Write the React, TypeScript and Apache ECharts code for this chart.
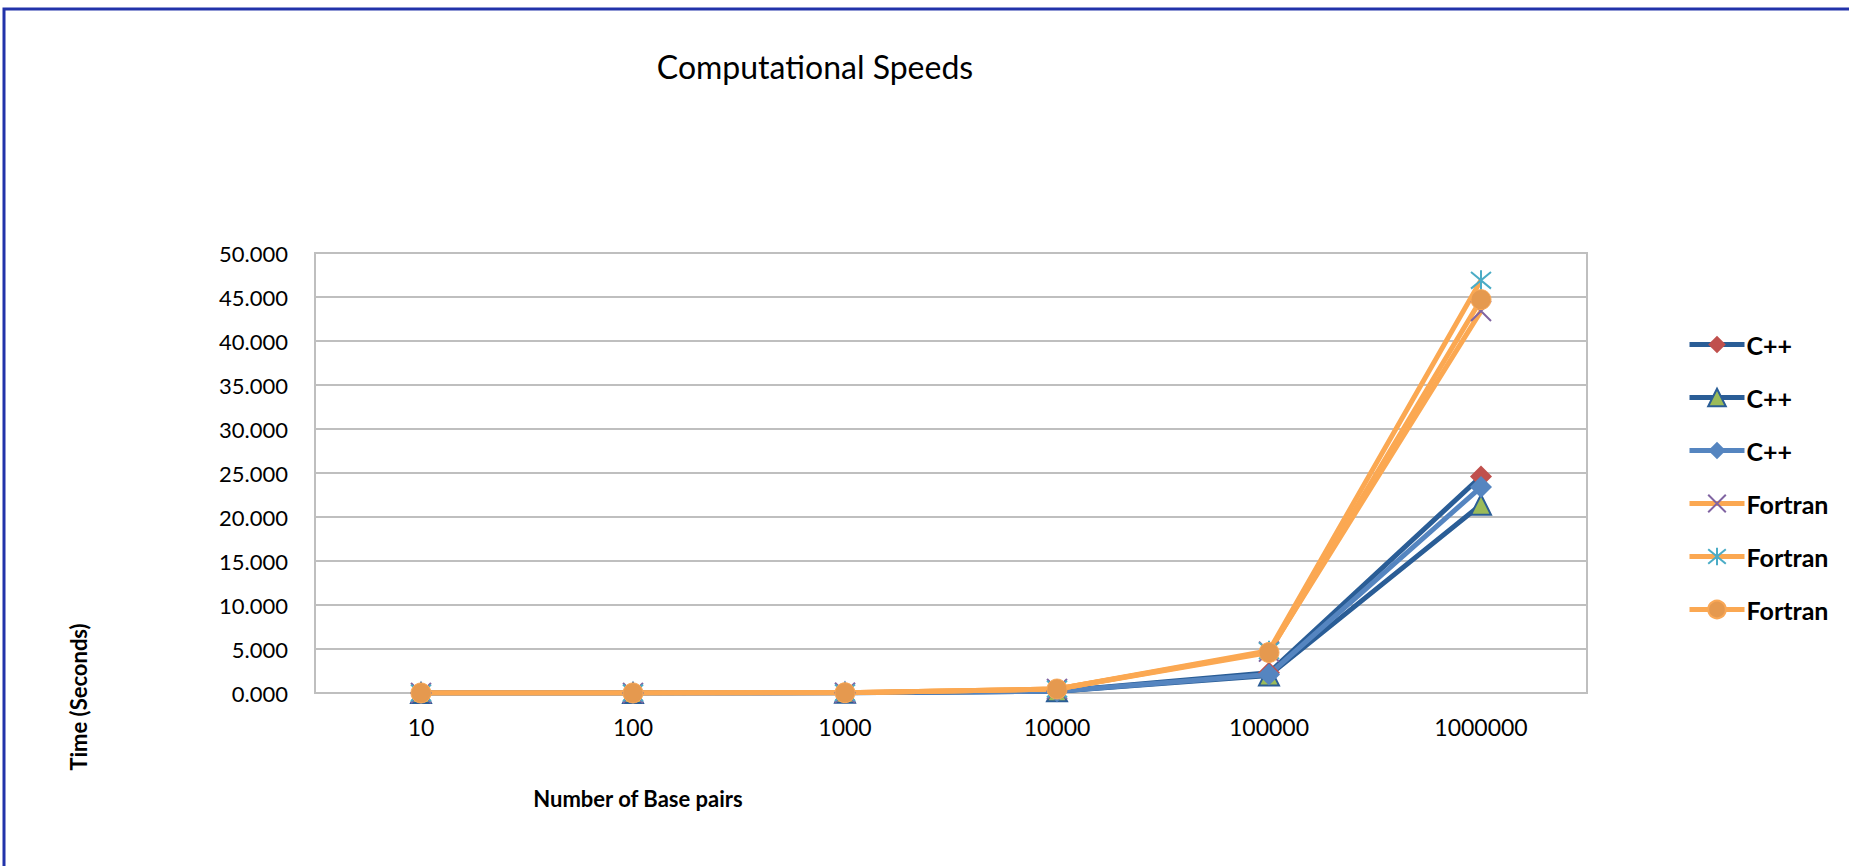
import React, { useEffect, useRef } from "react";
import * as echarts from "echarts";

const categories = ["10", "100", "1000", "10000", "100000", "1000000"];
const seriesNames = ["C++", "C++", "C++", "Fortran", "Fortran", "Fortran"];
const cpp1 = [0.001, 0.002, 0.02, 0.2, 2.3, 24.6];
const cpp2 = [0.001, 0.002, 0.02, 0.2, 2.0, 21.4];
const cpp3 = [0.001, 0.002, 0.02, 0.2, 2.1, 23.4];
const fortran1 = [0.001, 0.003, 0.03, 0.45, 4.7, 43.4];
const fortran2 = [0.001, 0.003, 0.03, 0.45, 4.8, 46.9];
const fortran3 = [0.001, 0.003, 0.03, 0.45, 4.6, 44.7];

const FONT = "Lato, 'Open Sans', sans-serif";
const X_PATH = "path://M0 0 L10 10 M10 0 L0 10";
const STAR_PATH = "path://M0 0 L10 10 M10 0 L0 10 M5 -1 L5 11";

export default function App() {
  const ref = useRef<HTMLDivElement>(null);
  useEffect(() => {
    document.body.style.margin = "0";
    const chart = echarts.init(ref.current!, null, { renderer: "svg" });
    const lineW = 5;
    const mk = (
      name: string,
      data: number[],
      lineColor: string,
      symbol: string,
      symbolSize: number,
      itemStyle: any
    ) => ({
      name,
      type: "line",
      data,
      symbol,
      symbolSize,
      showAllSymbol: true,
      lineStyle: { color: lineColor, width: lineW },
      itemStyle,
      emphasis: { disabled: true },
    });
    chart.setOption({
      animation: false,
      backgroundColor: "#ffffff",
      title: {
        text: "Computational Speeds",
        left: 810,
        top: 45,
        textAlign: "center",
        textStyle: { fontFamily: FONT, fontSize: 32, fontWeight: "normal", color: "#000" },
      },
      grid: {
        left: 315,
        top: 253,
        width: 1272,
        height: 440,
        show: true,
        borderColor: "#bfbfbf",
        borderWidth: 2,
        containLabel: false,
      },
      legend: {
        orient: "vertical",
        left: 1682,
        top: 327,
        itemWidth: 55,
        itemHeight: 22,
        itemGap: 28,
        selectedMode: false,
        lineStyle: { width: 5 },
        textStyle: {
          fontFamily: FONT,
          fontSize: 25,
          lineHeight: 25,
          fontWeight: "bold",
          color: "#000",
          padding: [0, 0, 0, -3],
        },
        data: [0, 1, 2, 3, 4, 5].map((i) => ({ name: seriesNames[i] + "\u200b".repeat(i) })),
      },
      xAxis: {
        type: "category",
        data: categories,
        boundaryGap: true,
        axisLine: { show: true, lineStyle: { color: "#bfbfbf", width: 2 } },
        axisTick: { show: false },
        axisLabel: { fontFamily: FONT, fontSize: 23, color: "#000", margin: 22 },
        splitLine: { show: false },
      },
      yAxis: {
        type: "value",
        min: 0,
        max: 50,
        interval: 5,
        axisLine: { show: true, lineStyle: { color: "#bfbfbf", width: 2 } },
        axisTick: { show: false },
        axisLabel: {
          fontFamily: FONT,
          fontSize: 22,
          color: "#000",
          margin: 27,
          formatter: (v: number) => v.toFixed(3),
        },
        splitLine: { show: true, lineStyle: { color: "#bfbfbf", width: 2 } },
      },
      series: [
        mk(seriesNames[0], cpp1, "#2a5d96", "diamond", 22, { color: "#c0504d" }),
        mk(seriesNames[1] + "\u200b", cpp2, "#2a5d96", "triangle", 20, {
          color: "#9bbb59",
          borderColor: "#2a5d96",
          borderWidth: 2,
        }),
        mk(seriesNames[2] + "\u200b\u200b", cpp3, "#5585c0", "diamond", 22, { color: "#5585c0" }),
        mk(seriesNames[3] + "\u200b".repeat(3), fortran1, "#fba852", X_PATH, 20, {
          color: "none",
          borderColor: "#8064a2",
          borderWidth: 2,
        }),
        mk(seriesNames[4] + "\u200b".repeat(4), fortran2, "#fba852", STAR_PATH, 20, {
          color: "none",
          borderColor: "#4bacc6",
          borderWidth: 2,
        }),
        mk(seriesNames[5] + "\u200b".repeat(5), fortran3, "#fba852", "circle", 20, {
          color: "#e5994f",
          borderColor: "#f9a857",
          borderWidth: 1,
        }),
      ],
      graphic: [
        {
          type: "rect",
          silent: true,
          shape: { x: 4, y: 9, width: 3000, height: 3000 },
          style: { fill: "none", stroke: "#2233aa", lineWidth: 3 },
        },
        {
          type: "text",
          x: 78,
          y: 697,
          rotation: Math.PI / 2,
          style: {
            text: "Time (Seconds)",
            fontFamily: FONT,
            fontSize: 22,
            fontWeight: "bold",
            fill: "#000",
            align: "center",
            verticalAlign: "middle",
          },
        },
        {
          type: "text",
          x: 638,
          y: 798,
          style: {
            text: "Number of Base pairs",
            fontFamily: FONT,
            fontSize: 22,
            fontWeight: "bold",
            fill: "#000",
            align: "center",
            verticalAlign: "middle",
          },
        },
      ],
    });
    return () => chart.dispose();
  }, []);
  return <div ref={ref} style={{ width: 1849, height: 866 }} />;
}
